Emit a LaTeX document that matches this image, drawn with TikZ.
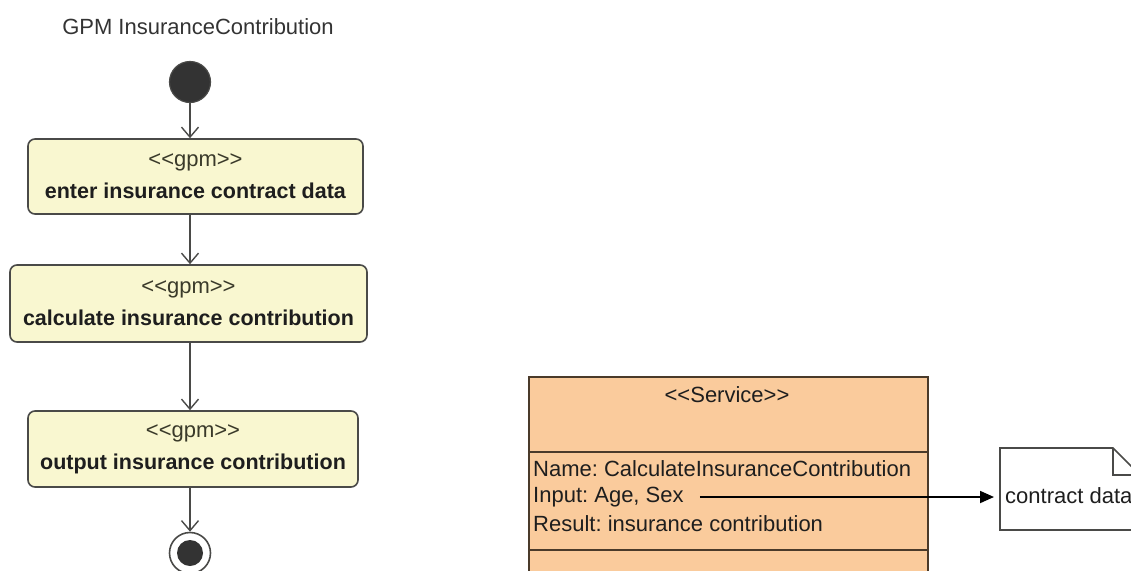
\documentclass[tikz,border=0pt]{standalone}
\usepackage{fontspec}
\setmainfont{Liberation Sans}
\usetikzlibrary{arrows.meta}
\definecolor{gpmfill}{HTML}{F9F7D0}
\definecolor{gpmline}{HTML}{4A4A48}
\definecolor{svcfill}{HTML}{FACB9C}
\definecolor{svcline}{HTML}{4A3A2A}
\definecolor{txt}{HTML}{1E1E1E}
\definecolor{stereo}{HTML}{3A3A2A}
\tikzset{
  gpmbox/.style={draw=gpmline, line width=1.6pt, fill=gpmfill, rounded corners=7pt,
    align=center, font=\fontsize{21.5}{32}\selectfont, text=txt, inner sep=0pt},
  flow/.style={draw=gpmline, line width=1.6pt, -{Straight Barb[length=10pt,width=17pt,line width=1.4pt]}},
  plain/.style={font=\fontsize{22}{26}\selectfont, text=txt},
  svctext/.style={plain, anchor=west, inner sep=2pt},
}
\begin{document}
\frenchspacing
\begin{tikzpicture}[x=1pt,y=-1pt]
\useasboundingbox (0,0) rectangle (1131,570);
\clip (0,0) rectangle (1131,570);
\node[plain, text=black!80] (title) at (198,27) {GPM InsuranceContribution};
\node[circle, draw=gpmline, line width=1.2pt, fill=black!80, minimum size=41pt, inner sep=0pt] (start) at (190,82) {};
\node[gpmbox, minimum width=335pt, minimum height=75pt] (b1) at (195.5,176.5)
  {\textcolor{stereo}{\fontsize{22}{32}\selectfont <{}<gpm>{}>}\\ \textbf{enter insurance contract data}};
\node[gpmbox, minimum width=357pt, minimum height=77pt] (b2) at (188.5,303.5)
  {\textcolor{stereo}{\fontsize{22}{32}\selectfont <{}<gpm>{}>}\\ \textbf{calculate insurance contribution}};
\node[gpmbox, minimum width=330pt, minimum height=76pt] (b3) at (193,449)
  {\textcolor{stereo}{\fontsize{22}{32}\selectfont <{}<gpm>{}>}\\ \textbf{output insurance contribution}};
\node[circle, draw=gpmline, line width=1.6pt, fill=white, minimum size=41pt, inner sep=0pt] (end) at (190,553) {};
\node[circle, fill=black!80, minimum size=26pt, inner sep=0pt] (endin) at (end.center) {};
\draw[flow] (start.south) -- (start |- b1.north);
\draw[flow] (start |- b1.south) -- (start |- b2.north);
\draw[flow] (start |- b2.south) -- (start |- b3.north);
\draw[flow] (start |- b3.south) -- (end.north);
% service
\node[draw=svcline, line width=1.6pt, fill=svcfill, minimum width=399pt, minimum height=230pt, inner sep=0pt, anchor=north west] (svc) at (528,376) {};
\draw[svcline, line width=1.6pt] (528,452) -- (927,452);
\draw[svcline, line width=1.6pt] (528,550) -- (927,550);
\node[plain] (stereo) at (727,395) {<{}<Service>{}>};
\node[svctext] (name) at (531,469) {Name: CalculateInsuranceContribution};
\node[svctext] (inp) at (531,497) {Input: Age, Sex};
\node[svctext] (res) at (531,524) {Result: insurance contribution};
% note
\draw[line width=1.6pt, draw=gpmline, fill=white] (1000,448) -- (1113,448) -- (1140,475) -- (1140,530) -- (1000,530) -- cycle;
\draw[line width=1.6pt, draw=gpmline] (1113,448) -- (1113,475) -- (1140,475);
\node[plain, anchor=west, inner sep=0pt] (doc) at (1005,496) {contract data};
\coordinate (docin) at (1000,497);
\draw[line width=1.8pt, -{Triangle[length=14pt,width=12pt]}, shorten >=6pt] ([xshift=14pt]inp.east) -- (docin);
\end{tikzpicture}
\end{document}
